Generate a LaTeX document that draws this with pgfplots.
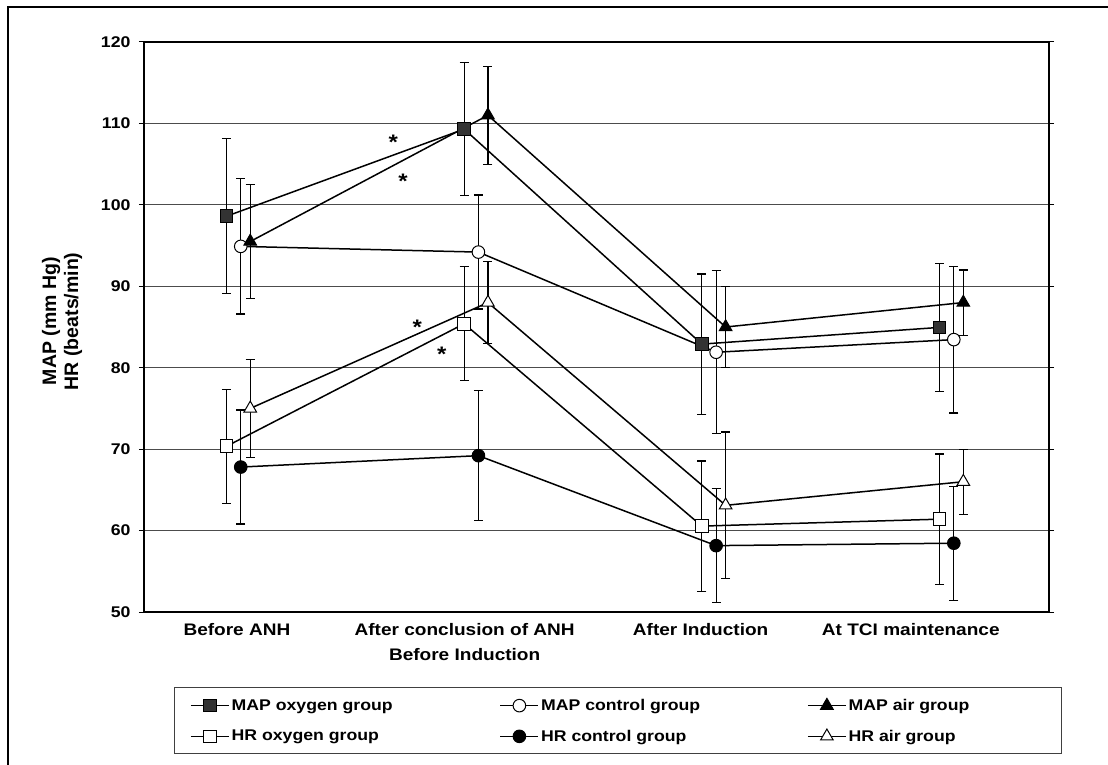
\documentclass[border=0pt]{standalone}
\usepackage{fontspec}
\setmainfont{Liberation Sans}[FakeStretch=1.14]
\newfontfamily\plainfont{Liberation Sans}
\usepackage{pgfplots}
\pgfplotsset{compat=1.18}
\definecolor{darkfill}{HTML}{333333}
\newcommand{\chfont}{\fontsize{15.5bp}{25bp}\selectfont\bfseries}
\newcommand{\xlfont}{\fontsize{16.7bp}{25bp}\selectfont\bfseries}
\pgfplotsset{myerr/.style={error bars/.cd, y dir=both, y explicit,
  error bar style={line width=1.2bp, black, solid},
  error mark options={rotate=90, black, line width=1.2bp, mark size=4.5bp}}}
\begin{document}
\begin{tikzpicture}
\path[use as bounding box] (-144bp,-153bp) rectangle (964bp,612bp);
\draw[line width=2bp] (970bp,605bp) -- (-136bp,605bp) -- (-136bp,-160bp);
\draw[line width=1bp, black!75] (30bp,-75bp) rectangle (917bp,-141bp);
\begin{axis}[
  at={(0,0)}, anchor=south west,
  scale only axis, width=905bp, height=570bp,
  xmin=0.593, xmax=4.4005, ymin=50, ymax=120,
  ytick={50,60,...,120},
  xtick={0.984,1.942,2.935,3.819},
  xticklabels={Before ANH,{After conclusion of ANH\\Before Induction},After Induction,At TCI maintenance},
  xticklabel style={align=center, font=\xlfont, yshift=-3bp},
  x tick style={draw=none},
  ymajorgrids, grid style={black!70, line width=0.9bp},
  tick align=outside, major tick length=5bp,
  y tick style={black, line width=1bp},
  axis line style={line width=1.3bp},
  /pgf/number format/assume math mode=true,
  yticklabel style={font=\chfont, xshift=-5bp},
  ylabel={MAP (mm Hg)\\HR (beats/min)},
  ylabel style={align=center, font=\plainfont\fontsize{19.5bp}{22bp}\selectfont\bfseries, at={(axis description cs:-0.0906,0.51)}, anchor=center},
  clip=false,
  legend columns=3,
  legend cell align=left,
  legend style={draw=none, fill=none, at={(0.0508,-0.1912)}, anchor=west,
    font=\chfont, row sep=14bp, inner sep=0pt,
    /tikz/every even column/.append style={column sep=105bp}},
  legend image code/.code={\draw[mark repeat=2,mark phase=2] plot coordinates {(0bp,0bp)(19bp,0bp)(38bp,0bp)};},
  every axis plot/.append style={line width=1.5bp, black},
]
% MAP oxygen
\addplot[mark=square*, mark size=6.3bp, mark options={fill=darkfill, draw=black, line width=1bp}, myerr]
  table[x=x, y=y, y error=e]{
x y e
0.94 98.6 9.5
1.94 109.3 8.2
2.94 82.9 8.6
3.94 84.95 7.85
};
\addlegendentry{MAP oxygen group}
% MAP control
\addplot[mark=*, mark size=6.3bp, mark options={fill=white, draw=black, line width=1bp}, myerr]
  table[x=x, y=y, y error=e]{
x y e
1 94.9 8.3
2 94.2 7.0
3 81.9 10.0
4 83.45 9.0
};
\addlegendentry{MAP control group}
% MAP air
\addplot[mark=triangle*, mark size=7.3bp, mark options={fill=black, draw=black, line width=1bp}, myerr]
  table[x=x, y=y, y error=e]{
x y e
1.04 95.5 7.0
2.04 111.0 6.0
3.04 85.0 5.0
4.04 88.0 4.0
};
\addlegendentry{MAP air group}
% HR oxygen
\addplot[mark=square*, mark size=6.3bp, mark options={fill=white, draw=black, line width=1bp}, myerr]
  table[x=x, y=y, y error=e]{
x y e
0.94 70.35 7.0
1.94 85.4 7.0
2.94 60.55 8.0
3.94 61.4 8.0
};
\addlegendentry{HR oxygen group}
% HR control
\addplot[mark=*, mark size=6.3bp, mark options={fill=black, draw=black, line width=1bp}, myerr]
  table[x=x, y=y, y error=e]{
x y e
1 67.8 7.0
2 69.2 8.0
3 58.15 7.0
4 58.45 7.0
};
\addlegendentry{HR control group}
% HR air
\addplot[mark=triangle*, mark size=7.3bp, mark options={fill=white, draw=black, line width=1bp}, myerr]
  table[x=x, y=y, y error=e]{
x y e
1.04 75.0 6.0
2.04 88.0 5.0
3.04 63.1 9.0
4.04 66.0 4.0
};
\addlegendentry{HR air group}
\node[font=\fontsize{21bp}{21bp}\selectfont\bfseries, yshift=-4bp] at (axis cs:1.642,108.2) {*};
\node[font=\fontsize{21bp}{21bp}\selectfont\bfseries, yshift=-4bp] at (axis cs:1.683,103.4) {*};
\node[font=\fontsize{21bp}{21bp}\selectfont\bfseries, yshift=-4bp] at (axis cs:1.743,85.5) {*};
\node[font=\fontsize{21bp}{21bp}\selectfont\bfseries, yshift=-4bp] at (axis cs:1.846,82.1) {*};
\end{axis}
\end{tikzpicture}
\end{document}
